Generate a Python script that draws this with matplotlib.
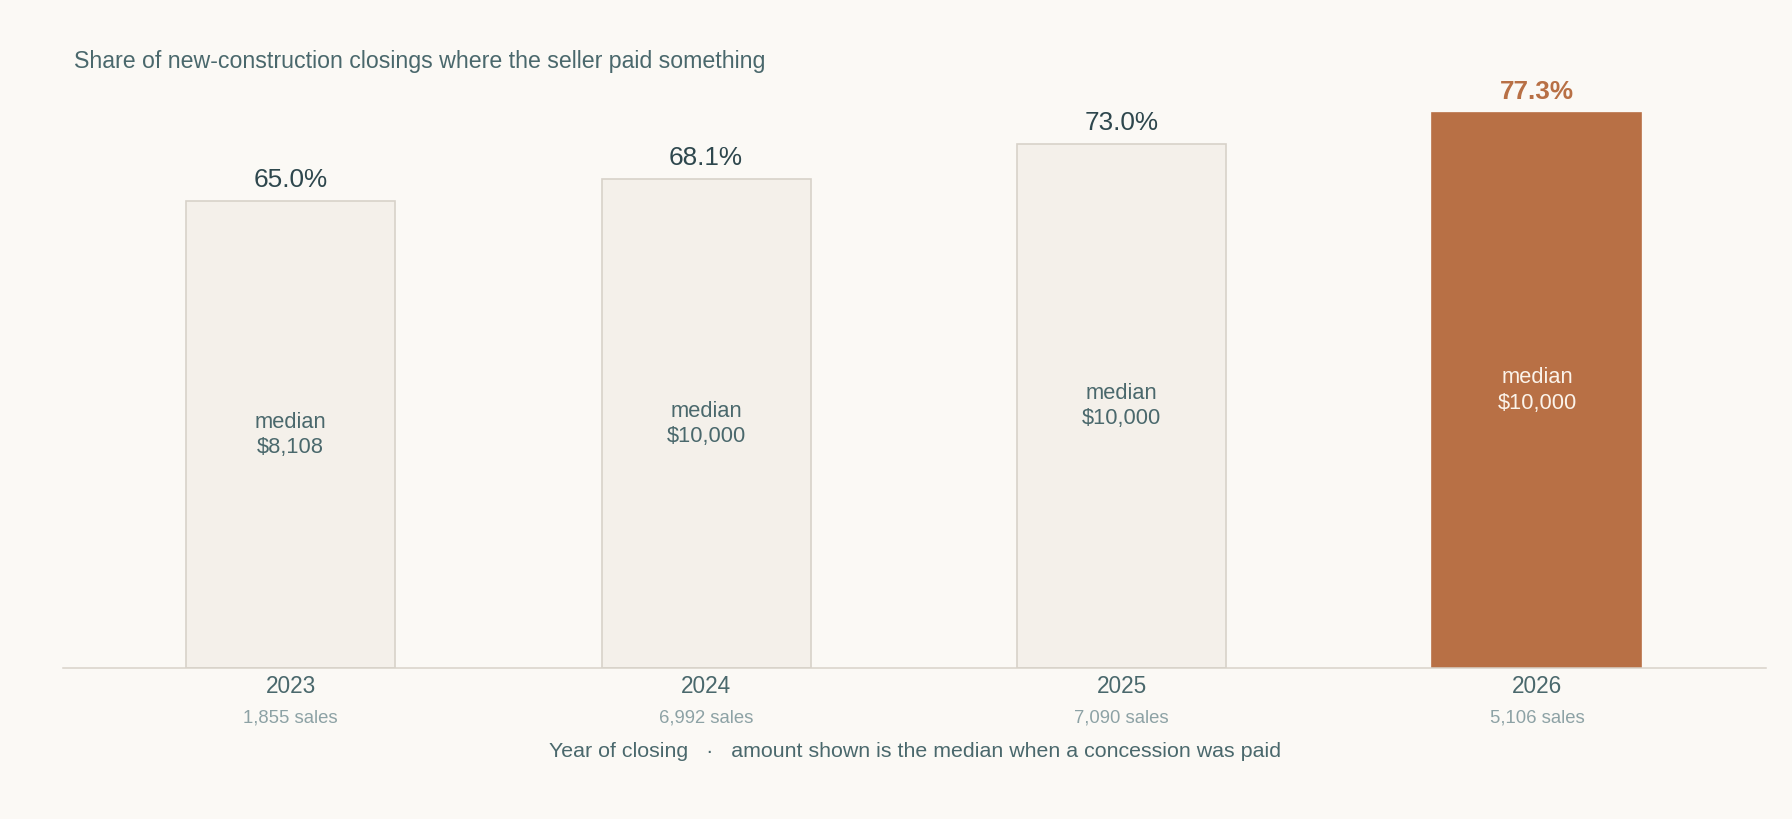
import matplotlib
matplotlib.use("Agg")
import matplotlib.pyplot as plt

plt.rcParams['font.family'] = ['Liberation Sans', 'DejaVu Sans']

years = ["2023", "2024", "2025", "2026"]
shares = [65.0, 68.1, 73.0, 77.3]
medians = ["$8,108", "$10,000", "$10,000", "$10,000"]
sales = ["1,855 sales", "6,992 sales", "7,090 sales", "5,106 sales"]
highlight = 3

BG = "#fbf9f5"
BAR_LIGHT = "#f4f0ea"
BAR_EDGE = "#d8d2c9"
BAR_HI = "#b87045"
TXT_DARK = "#2e474d"
TXT_MID = "#4a686c"
TXT_LIGHT = "#8da2a5"

W, H = 1792, 819
S = 1792 / 1568  # layout measured on a 1568-wide view

fig = plt.figure(figsize=(W / 100, H / 100), dpi=100, facecolor=BG)
left, right = 55.5 * S, 1545.5 * S
base, top = 584.8 * S, 60.8 * S
ax = fig.add_axes([left / W, (H - base) / H, (right - left) / W, (base - top) / H])
ax.set_facecolor(BG)

x = list(range(len(years)))
colors = [BAR_HI if i == highlight else BAR_LIGHT for i in x]
edges = [BAR_HI if i == highlight else BAR_EDGE for i in x]
ax.bar(x, shares, width=0.503, color=colors, edgecolor=edges, linewidth=1.2, zorder=2)

ax.set_xlim(-0.547, 3.552)
ax.set_ylim(0, 83.35)
ax.set_xticks([])
ax.set_yticks([])
for s in ["top", "left", "right"]:
    ax.spines[s].set_visible(False)
ax.spines["bottom"].set_color(BAR_EDGE)
ax.spines["bottom"].set_linewidth(1.1)
ax.spines["bottom"].set_zorder(3)

for i, (v, m, yr, sl) in enumerate(zip(shares, medians, years, sales)):
    hi = i == highlight
    ax.annotate(f"{v:.1f}%", (i, v), xytext=(0, 9.0 * S), textcoords="offset points",
                ha="center", va="baseline", fontsize=16.5 * S,
                color=BAR_HI if hi else TXT_DARK,
                fontweight="bold" if hi else "normal")
    ax.text(i, v / 2, f"median\n{m}", ha="center", va="center", fontsize=13.8 * S,
            linespacing=1.27, color="#fbf3ea" if hi else TXT_MID, zorder=4)
    ax.annotate(yr, (i, 0), xytext=(0, -11.5 * S), textcoords="offset points",
                ha="center", va="center", fontsize=14.3 * S, color=TXT_MID,
                annotation_clip=False)
    ax.annotate(sl, (i, 0), xytext=(0, -31.0 * S), textcoords="offset points",
                ha="center", va="center", fontsize=11.7 * S, color=TXT_LIGHT,
                annotation_clip=False)

ax.annotate("Year of closing   \u00b7   amount shown is the median when a concession was paid",
            (0.5, 0), xycoords="axes fraction", xytext=(0, -52.2 * S), textcoords="offset points",
            ha="center", va="center", fontsize=13.5 * S, color=TXT_MID, annotation_clip=False)

fig.text(65 * S / W, 1 - 53.5 * S / H, "Share of new-construction closings where the seller paid something",
         ha="left", va="center", fontsize=14.6 * S, color=TXT_MID)

fig.savefig("out.png", dpi=100, facecolor=BG)
